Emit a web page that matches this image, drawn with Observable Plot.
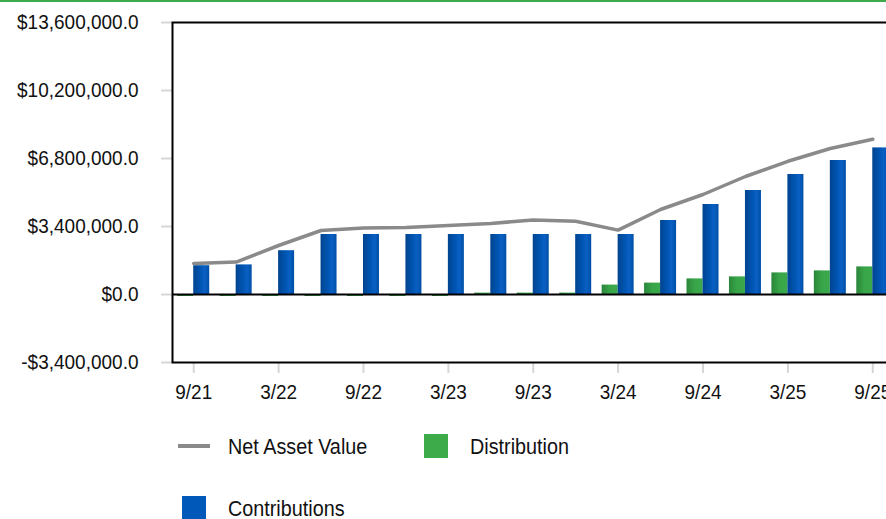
<!DOCTYPE html>
<html>
<head>
<meta charset="utf-8">
<script src="https://cdn.jsdelivr.net/npm/d3@7"></script>
<script src="https://cdn.jsdelivr.net/npm/@observablehq/plot@0.6"></script>
<style>
  html, body { margin: 0; padding: 0; width: 886px; height: 519px; overflow: hidden; background: #fff; }
  body { position: relative; font-family: "Liberation Sans", Arial, sans-serif; color: #111; }
  #topline { position: absolute; left: 0; top: 0; width: 886px; height: 2px; background: #3eaa4b; }
  #chart { position: absolute; left: 0; top: 0; width: 900px; }
  #chart svg { max-width: none !important; }
  .swatch { position: absolute; }
  .label { position: absolute; font-size: 21.5px; line-height: 1; white-space: nowrap;
           transform: scaleX(0.92); transform-origin: left center; }
</style>
</head>
<body>
<div id="chart"></div>
<div id="topline"></div>
<div class="swatch" style="left:178px; top:444px; width:32px; height:3.5px; background:#8a8a8a;"></div>
<div class="label" style="left:228px; top:436.5px;">Net Asset Value</div>
<div class="swatch" style="left:424px; top:434px; width:24px; height:24px; background:#3dab4a;"></div>
<div class="label" style="left:470px; top:436.5px;">Distribution</div>
<div class="swatch" style="left:182px; top:496px; width:24px; height:24px; background:#0058b8;"></div>
<div class="label" style="left:228px; top:498.5px;">Contributions</div>

<script>
// Quarter-end periods and the values reported for each one (US dollars)
const quarters = ["9/21", "12/21", "3/22", "6/22", "9/22", "12/22", "3/23", "6/23", "9/23",
                  "12/23", "3/24", "6/24", "9/24", "12/24", "3/25", "6/25", "9/25"];
const netAssetValue = [1550000, 1620000, 2450000, 3200000, 3330000, 3350000, 3450000, 3550000, 3730000,
                       3660000, 3220000, 4250000, 5000000, 5900000, 6660000, 7300000, 7760000];
const distribution = [-100000, -100000, -100000, -100000, -100000, -100000, -100000, 70000, 70000,
                      70000, 470000, 570000, 780000, 880000, 1080000, 1180000, 1380000];
const contributions = [1440000, 1480000, 2190000, 3000000, 3000000, 3000000, 3000000, 3000000, 3000000,
                       3000000, 3000000, 3700000, 4500000, 5200000, 6000000, 6700000, 7330000];
const xTickLabels = ["9/21", "3/22", "9/22", "3/23", "9/23", "3/24", "9/24", "3/25", "9/25"];
const yTicks = [-3400000, 0, 3400000, 6800000, 10200000, 13600000];

const rows = quarters.map((q, i) => ({
  quarter: q,
  nav: netAssetValue[i],
  distribution: distribution[i],
  contributions: contributions[i]
}));

const width = 900, height = 410;
const marginLeft = 172, marginRight = 6.5, marginTop = 22, marginBottom = 48;
const band = (width - marginLeft - marginRight) / quarters.length;
const barWidth = 16;

const money = v => (v < 0 ? "-$" : "$") + d3.format(",.1f")(Math.abs(v));

const svg = Plot.plot({
  width, height, marginLeft, marginRight, marginTop, marginBottom,
  style: { fontFamily: "'Liberation Sans', Arial, sans-serif", fontSize: "20px", color: "#111",
           background: "transparent", overflow: "visible", maxWidth: "none" },
  x: { type: "band", domain: quarters, padding: 0, round: false, label: null },
  y: { domain: [-3400000, 13600000], label: null },
  marks: [
    Plot.axisY({ ticks: yTicks, tickFormat: money, tickSize: 11, tickPadding: 23, fontSize: 20,
                 stroke: "#d6d6d6", strokeWidth: 2, fill: "#111", label: null }),
    Plot.axisX({ ticks: xTickLabels, tickSize: 11, tickPadding: 11, fontSize: 20,
                 stroke: "#d6d6d6", strokeWidth: 2, fill: "#111", label: null }),
    Plot.barY(rows, { x: "quarter", y: "distribution", fill: "url(#grad-distribution)",
                      insetLeft: band / 2 - barWidth, insetRight: band / 2 }),
    Plot.barY(rows, { x: "quarter", y: "contributions", fill: "url(#grad-contributions)",
                      insetLeft: band / 2, insetRight: band / 2 - barWidth }),
    Plot.ruleY([0], { stroke: "#000", strokeWidth: 2 }),
    Plot.line(rows, { x: "quarter", y: "nav", stroke: "#8a8a8a", strokeWidth: 3.5 }),
    Plot.frame({ stroke: "#000", strokeWidth: 2 })
  ]
});

// Horizontal shading on the bars
const defs = d3.select(svg).insert("defs", ":first-child");
function gradient(id, stops) {
  const g = defs.append("linearGradient").attr("id", id)
    .attr("x1", "0").attr("x2", "1").attr("y1", "0").attr("y2", "0");
  stops.forEach(([offset, color]) => g.append("stop").attr("offset", offset).attr("stop-color", color));
}
gradient("grad-contributions", [[0, "#00448f"], [0.45, "#0055b2"], [0.72, "#0a60c3"], [1, "#004fa6"]]);
gradient("grad-distribution", [[0, "#2a863a"], [0.5, "#38a548"], [1, "#3aa94b"]]);

svg.style.maxWidth = "none";
svg.style.width = width + "px";
svg.style.height = height + "px";
document.getElementById("chart").appendChild(svg);

// Slightly condensed axis lettering, scaled about each label's anchor
svg.querySelectorAll("text").forEach(t => {
  const ax = parseFloat(t.getAttribute("x") || 0);
  const prev = t.getAttribute("transform") || "";
  t.setAttribute("transform", `${prev} translate(${ax},0) scale(0.95,1) translate(${-ax},0)`);
});
</script>
</body>
</html>
